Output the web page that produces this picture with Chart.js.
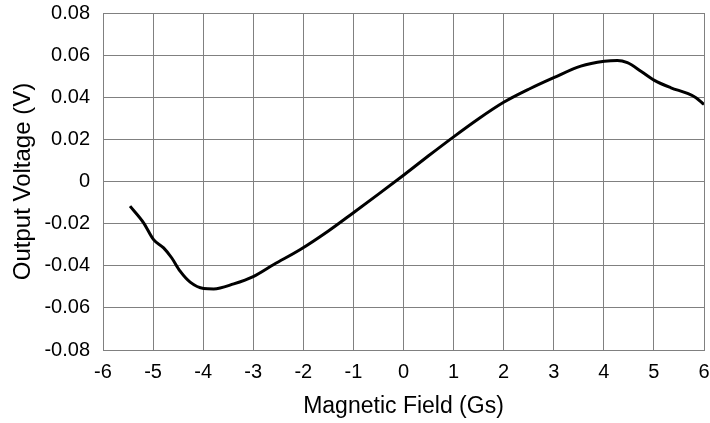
<!DOCTYPE html>
<html>
<head>
<meta charset="utf-8">
<script src="https://cdn.jsdelivr.net/npm/chart.js@4"></script>
<style>
  html, body { margin: 0; padding: 0; background: #fff; }
  #wrap { width: 710px; height: 423px; }
</style>
</head>
<body>
<div id="wrap"><canvas id="fieldChart"></canvas></div>
<script>
// Magnetic field (Gs) vs output voltage (V)
const fieldGs = [-5.46, -5.19, -4.99, -4.79, -4.63, -4.46, -4.26, -3.99, -3.79, -3.39, -2.99, -2.59, -2.06, -1.5, -1.0, -0.5, 0.0, 0.5, 1.0, 1.5, 2.0, 2.5, 3.0, 3.54, 4.01, 4.27, 4.47, 4.74, 5.01, 5.34, 5.67, 5.84, 6.0];
const outputV = [-0.0117, -0.0196, -0.0276, -0.0315, -0.0362, -0.0426, -0.0478, -0.0508, -0.0510, -0.0486, -0.0450, -0.0394, -0.0323, -0.0235, -0.0148, -0.0060, 0.0030, 0.0122, 0.0212, 0.0298, 0.0376, 0.0438, 0.0493, 0.0548, 0.0571, 0.0575, 0.0564, 0.0524, 0.0480, 0.0445, 0.0418, 0.0398, 0.0366];

const points = fieldGs.map((x, i) => ({ x: x, y: outputV[i] }));

Chart.defaults.font.family = '"Liberation Sans", Arial, sans-serif';
Chart.defaults.color = '#000';

const ctx = document.getElementById('fieldChart').getContext('2d');
new Chart(ctx, {
    type: 'scatter',
    data: {
        datasets: [{
            label: 'Output Voltage',
            data: points,
            showLine: true,
            borderColor: '#000',
            borderWidth: 3,
            pointRadius: 0,
            cubicInterpolationMode: 'monotone',
            fill: false
        }]
    },
    options: {
        responsive: true,
        maintainAspectRatio: false,
        animation: false,
        layout: { padding: { left: 0, right: 6, top: 13, bottom: 0 } },
        plugins: {
            legend: { display: false },
            tooltip: { enabled: false }
        },
        scales: {
            x: {
                min: -6,
                max: 6,
                ticks: { stepSize: 1, font: { size: 20 }, padding: 10, maxRotation: 0 },
                grid: { color: '#808080', lineWidth: 1, drawTicks: false },
                border: { color: '#808080' },
                title: { display: true, text: 'Magnetic Field (Gs)', font: { size: 23 }, padding: { top: 0, bottom: 3 } },
                afterFit: function (axis) {
                    axis.height = 73;
                    axis.paddingLeft = 0;
                    axis.paddingRight = 0;
                }
            },
            y: {
                min: -0.08,
                max: 0.08,
                ticks: {
                    stepSize: 0.02,
                    font: { size: 20 },
                    padding: 13,
                    callback: function (value) {
                        const v = Math.round(value * 100) / 100;
                        return v === 0 ? '0' : v.toFixed(2);
                    }
                },
                grid: { color: '#808080', lineWidth: 1, drawTicks: false },
                border: { color: '#808080' },
                title: { display: true, text: 'Output Voltage (V)', font: { size: 24 }, padding: { top: 9, bottom: 0 } },
                afterFit: function (axis) {
                    axis.width = 103;
                    axis.paddingTop = 0;
                    axis.paddingBottom = 0;
                }
            }
        }
    }
});
</script>
</body>
</html>
